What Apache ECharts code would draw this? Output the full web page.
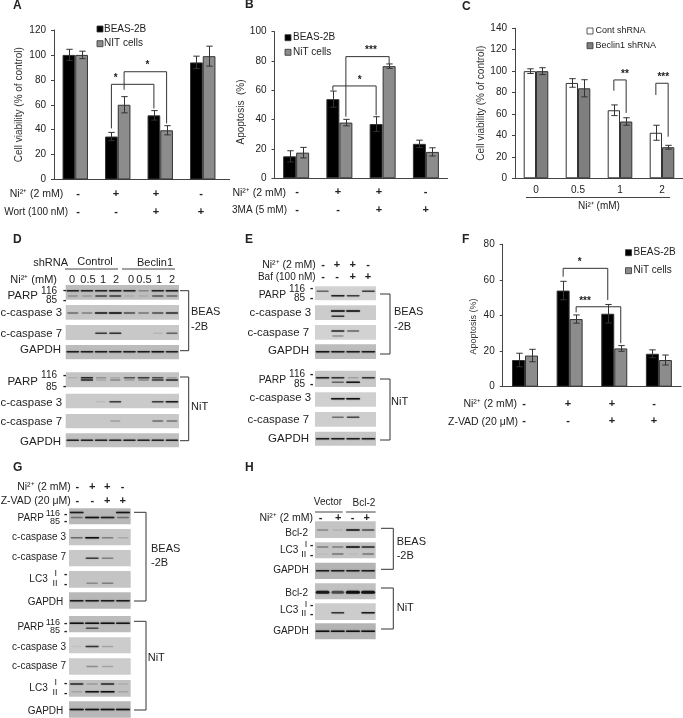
<!DOCTYPE html>
<html>
<head>
<meta charset="utf-8">
<title>Figure</title>
<style>
  html, body { margin: 0; padding: 0; background: #fff; }
  #main { width: 683px; height: 718px; }
</style>
<script src="https://cdn.jsdelivr.net/npm/echarts@6/dist/echarts.min.js"></script>
</head>
<body>
<div id="main"></div>
<script>
// bar chart values, [first series, second series] per group
const aBeas = [100, 34.5, 51.5, 94];
const aNit = [100, 60, 39.5, 99];
const aBeasErr = [4.5, 3.3, 3.8, 5];
const aNitErr = [3, 6.5, 3.7, 8];

const bBeas = [15, 54, 37, 23.5];
const bNit = [17.5, 38, 76.5, 18];
const bBeasErr = [3.8, 5.5, 5, 2.5];
const bNitErr = [3.6, 2.2, 1.5, 2.8];

const cCont = [100, 89, 63.5, 42.5];
const cBeclin = [100, 84, 53, 29];
const cContErr = [2.2, 4, 5, 7];
const cBeclinErr = [3.2, 8, 3.5, 1.8];
const cDoses = ['0', '0.5', '1', '2'];

const fBeas = [15, 54, 41, 18.5];
const fNit = [17.5, 38, 21.5, 15];
const fBeasErr = [3.8, 5.2, 5.2, 2.2];
const fNitErr = [3.5, 2.3, 1.6, 2.8];

// significance brackets: group, side, start value, group, side, end value, top value, label, label pos
const aBrackets = [
  [1, -1, 41, 2, -1, 57, 76.4, '*', 0.1],
  [1, 1, 72, 2, 1, 45, 86.5, '*', 0.55]
];
const bBrackets = [
  [1, -1, 60, 2, -1, 43, 63, '*', 0.62],
  [1, 1, 42, 2, 1, 78, 83, '***', 0.58]
];
const cBrackets = [
  [2, -1, 81.8, 2, 1, 61, 91.8, '**', 0.9],
  [3, -1, 77.8, 3, 1, 38.8, 88.7, '***', 0.6]
];
const fBrackets = [
  [1, -1, 61.8, 2, -1, 48.7, 66.5, '*', 0.37],
  [1, 1, 41.8, 2, 1, 24.4, 44.9, '***', 0.2]
];

// +/- rows under the charts and blots
const rowMinusPlusPlusMinus = ['-', '+', '+', '-'];
const rowMinusMinusPlusPlus = ['-', '-', '+', '+'];
const rowVector = ['-', '+', '-', '+'];
const dLanes = ['0', '0.5', '1', '2', '0', '0.5', '1', '2'];

// band intensity per lane, read by eye from the blots
const dParpB116 = [.85, .85, .85, .9, .85, .3, .85, .9];
const dParpB85 = [.25, .2, .65, .7, .1, .1, .55, .45];
const dCasp3B = [.45, .35, .9, 1, .6, .4, .6, .8];
const dCasp7B = [0, 0, .7, .75, 0, 0, .1, .5];
const dGapdhB = [.9, .9, .9, .9, .9, .9, .95, .85];
const dParpN116 = [.1, .8, .25, .15, .55, .7, .6, .2];
const dParpN85 = [0, .8, .15, .3, .2, .3, .7, .8];
const dCasp3N = [0, 0, .08, .7, 0, 0, .7, .9];
const dCasp7N = [0, 0, 0, .2, 0, 0, .45, .4];
const dGapdhN = [.85, .85, .85, .85, .85, .85, .85, .85];

const eParpB116 = [.5, 0, 0, .7];
const eParpB85 = [0, .85, .7, 0];
const eCasp3Ba = [0, 1, 1, 0];
const eCasp3Bb = [0, .75, 0, 0];
const eCasp7Ba = [0, .8, .5, 0];
const eCasp7Bb = [0, .3, 0, 0];
const eGapdhB = [.95, .9, .9, .9];
const eParpN116 = [.85, .75, .2, .75];
const eParpN85 = [0, .5, .95, 0];
const eCasp3N = [0, .95, 1, 0];
const eCasp7N = [0, .45, .65, 0];
const eGapdhN = [.9, .9, .9, .9];

const gParpB116 = [.9, 0, 0, .95];
const gParpB85 = [.4, 1, .9, .4];
const gCasp3B = [.45, 1, .35, .15];
const gCasp7B = [0, .7, .35, 0];
const gLc3B = [0, .3, .35, 0];
const gGapdhB = [.9, .9, .9, .9];
const gParpN116 = [1, 1, 1, .95];
const gParpN85 = [0, .6, 0, 0];
const gCasp3N = [.05, .75, .2, 0];
const gCasp7N = [0, .3, .2, 0];
const gLc3Na = [.8, .2, .8, .1];
const gLc3Nb = [.15, .95, 1, .15];
const gGapdhN = [1, 1, 1, 1];

const hBcl2B = [.3, .1, .95, .6];
const hLc3Ba = [.35, .35, 1, .8];
const hLc3Bb = [.05, .4, .05, .4];
const hGapdhB = [.9, .9, .9, .9];
const hBcl2N = [.9, .6, 1, .95];
const hLc3N = [0, .75, 0, .9];
const hGapdhN = [1, 1, 1, 1];

const FONT = '"Liberation Sans", Arial, sans-serif';
const AXIS_COLOR = '#444';

const grids = [];
const xAxes = [];
const yAxes = [];
const series = [];
const graphics = [];

function addBarChart(cfg) {
  const idx = grids.length;
  grids.push({ left: cfg.rect[0], top: cfg.rect[1], width: cfg.rect[2], height: cfg.rect[3] });
  xAxes.push({
    gridIndex: idx,
    type: 'category',
    data: cfg.labels || ['a', 'b', 'c', 'd'],
    axisTick: { show: false },
    axisLine: { lineStyle: { color: AXIS_COLOR, width: 1 } },
    axisLabel: { show: !!cfg.labels, margin: 7, color: '#222', fontSize: 10, fontFamily: FONT, interval: 0 }
  });
  yAxes.push({
    gridIndex: idx,
    type: 'value',
    min: 0,
    max: cfg.max,
    interval: 20,
    name: cfg.title,
    nameLocation: 'middle',
    nameGap: cfg.nameGap,
    nameRotate: 90,
    nameTextStyle: { color: '#333', fontSize: cfg.nameSize || 10, fontFamily: FONT, padding: cfg.namePadding || 0 },
    splitLine: { show: false },
    axisLine: { show: true, lineStyle: { color: AXIS_COLOR, width: 1 } },
    axisTick: { show: true, length: 3, lineStyle: { color: AXIS_COLOR } },
    axisLabel: { color: '#222', fontSize: 10, fontFamily: FONT, margin: 8 }
  });
  const bw = cfg.barWidth;
  cfg.bars.forEach(function (b) {
    series.push({
      type: 'bar',
      name: b.name,
      xAxisIndex: idx,
      yAxisIndex: idx,
      data: b.values,
      barWidth: bw,
      barGap: '0%',
      itemStyle: { color: b.color, borderColor: '#333', borderWidth: 1 }
    });
  });
  // error bars
  const errData = [];
  cfg.bars.forEach(function (b, s) {
    b.values.forEach(function (v, i) { errData.push([i, v, b.err[i], s]); });
  });
  series.push({
    type: 'custom',
    xAxisIndex: idx,
    yAxisIndex: idx,
    z: 5,
    silent: true,
    clip: false,
    data: errData,
    renderItem: function (params, api) {
      const s = api.value(3);
      const v = api.value(1);
      const e = api.value(2);
      const dir = s === 0 ? -1 : 1;
      const top = api.coord([api.value(0), v + e]);
      const bot = api.coord([api.value(0), v - e]);
      const x = Math.round(top[0] + dir * bw / 2) + 0.5;
      const cap = 3.2;
      const st = { stroke: '#333', lineWidth: 1, fill: null };
      return {
        type: 'group',
        children: [
          { type: 'line', shape: { x1: x, y1: top[1], x2: x, y2: bot[1] }, style: st },
          { type: 'line', shape: { x1: x - cap, y1: top[1], x2: x + cap, y2: top[1] }, style: st },
          { type: 'line', shape: { x1: x - cap, y1: bot[1], x2: x + cap, y2: bot[1] }, style: st }
        ]
      };
    }
  });
  // significance brackets
  series.push({
    type: 'custom',
    xAxisIndex: idx,
    yAxisIndex: idx,
    z: 6,
    silent: true,
    clip: false,
    data: cfg.brackets.map(function (b) { return [b[0], b[2]]; }),
    renderItem: function (params, api) {
      const b = cfg.brackets[params.dataIndex];
      const p1 = api.coord([b[0], b[2]]);
      const p2 = api.coord([b[3], b[5]]);
      const t = api.coord([b[0], b[6]]);
      const x1 = p1[0] + b[1] * bw / 2;
      const x2 = p2[0] + b[4] * bw / 2;
      return {
        type: 'group',
        children: [
          {
            type: 'polyline',
            shape: { points: [[x1, p1[1]], [x1, t[1]], [x2, t[1]], [x2, p2[1]]] },
            style: { stroke: '#333', lineWidth: 1, fill: null }
          },
          {
            type: 'text',
            style: {
              text: b[7],
              x: x1 + (x2 - x1) * b[8],
              y: t[1] - 6,
              align: 'center',
              verticalAlign: 'middle',
              fill: '#222',
              font: 'bold 10px ' + FONT
            }
          }
        ]
      };
    }
  });
  // legend keys sit closer to their text than the legend component allows
  cfg.bars.forEach(function (b, i) {
    const y = cfg.legend[1] + i * cfg.legend[2];
    graphics.push({
      type: 'rect', silent: true,
      shape: { x: cfg.legend[0], y: y - 3, width: 6, height: 6 },
      style: { fill: b.color, stroke: '#333', lineWidth: 0.8 }
    });
    txt(cfg.legend[3], y, b.name, cfg.legend[4], 'left');
  });
}

function addBlot(rect, bg, rows, bandH) {
  const idx = grids.length;
  const lanes = rows[0][1].length;
  grids.push({
    left: rect[0], top: rect[1], width: rect[2], height: rect[3],
    show: true, backgroundColor: bg, borderWidth: 0
  });
  xAxes.push({
    gridIndex: idx, type: 'category', show: false,
    data: rows[0][1].map(function (v, i) { return i; })
  });
  yAxes.push({ gridIndex: idx, type: 'value', show: false, inverse: true, min: 0, max: 1 });
  const data = [];
  rows.forEach(function (r) {
    r[1].forEach(function (v, i) {
      if (v > 0) data.push([i, r[0], v]);
    });
  });
  const laneW = rect[2] / lanes;
  series.push({
    type: 'custom',
    xAxisIndex: idx,
    yAxisIndex: idx,
    silent: true,
    data: data,
    renderItem: function (params, api) {
      const p = api.coord([api.value(0), api.value(1)]);
      const v = api.value(2);
      const w = laneW * (0.68 + 0.24 * v);
      const h = bandH || 1.5;
      return {
        type: 'rect',
        shape: { x: p[0] - w / 2, y: p[1] - h / 2, width: w, height: h, r: h / 2 },
        style: { fill: 'rgba(15,15,15,' + v + ')', shadowBlur: 1.5, shadowColor: 'rgba(30,30,30,' + v * 0.6 + ')' }
      };
    }
  });
}

function txt(x, y, text, size, align, extra) {
  graphics.push({
    type: 'text',
    silent: true,
    style: {
      x: x, y: y, text: text,
      font: (extra && extra.bold ? 'bold ' : '') + size + 'px ' + FONT,
      fill: '#222',
      align: align || 'left',
      verticalAlign: 'middle'
    }
  });
}

function hline(x1, x2, y, color) {
  graphics.push({
    type: 'line', silent: true,
    shape: { x1: x1, y1: y, x2: x2, y2: y },
    style: { stroke: color || AXIS_COLOR, lineWidth: 1 }
  });
}

function bracketSide(x0, x1, top, bot) {
  graphics.push({
    type: 'polyline', silent: true,
    shape: { points: [[x0, top], [x1, top], [x1, bot], [x0, bot]] },
    style: { stroke: '#333', lineWidth: 1, fill: null }
  });
}

function signRow(xs, y, signs) {
  signs.forEach(function (s, i) { txt(xs[i], y, s, 11, 'center', { bold: true }); });
}

// bar charts
addBarChart({
  rect: [54, 30, 170, 149.5], max: 120, title: 'Cell viability (% of control)', nameGap: 30,
  barWidth: 12.7, brackets: aBrackets, legend: [97, 29, 14.7, 104, 10],
  bars: [
    { name: 'BEAS-2B', values: aBeas, err: aBeasErr, color: '#000' },
    { name: 'NIT cells', values: aNit, err: aNitErr, color: '#8c8c8c' }
  ]
});
addBarChart({
  rect: [274.5, 31.7, 173, 146.6], max: 100, title: 'Apoptosis  (%)', nameGap: 22,
  barWidth: 13, brackets: bBrackets, legend: [285, 37.7, 14.6, 293, 10],
  namePadding: [0, 14, 0, 0],
  bars: [
    { name: 'BEAS-2B', values: bBeas, err: bBeasErr, color: '#000' },
    { name: 'NiT cells', values: bNit, err: bNitErr, color: '#8c8c8c' }
  ]
});
addBarChart({
  rect: [515, 28.3, 168, 150], max: 140, title: 'Cell viability (% of control)', nameGap: 28,
  barWidth: 12.3, brackets: cBrackets, legend: [587, 31, 14.7, 595.5, 9], labels: cDoses,
  bars: [
    { name: 'Cont shRNA', values: cCont, err: cContErr, color: '#fff' },
    { name: 'Beclin1 shRNA', values: cBeclin, err: cBeclinErr, color: '#7f7f7f' }
  ]
});
addBarChart({
  rect: [502.7, 244.3, 178.5, 142.4], max: 80, title: 'Apoptosis (%)', nameGap: 25, nameSize: 9,
  barWidth: 13, brackets: fBrackets, legend: [625.5, 252.7, 18, 633.5, 10],
  namePadding: [0, 22, 0, 0],
  bars: [
    { name: 'BEAS-2B', values: fBeas, err: fBeasErr, color: '#000' },
    { name: 'NiT cells', values: fNit, err: fNitErr, color: '#8c8c8c' }
  ]
});

// blots
const dX = [65.7, 113.3];
addBlot([dX[0], 285, dX[1], 14.7], '#bdbdbd', [[.39, dParpB116], [.75, dParpB85]]);
addBlot([dX[0], 305, dX[1], 14.7], '#c6c6c6', [[.55, dCasp3B]]);
addBlot([dX[0], 325, dX[1], 15], '#c8c8c8', [[.55, dCasp7B]]);
addBlot([dX[0], 345, dX[1], 14.3], '#bcbcbc', [[.47, dGapdhB]]);
addBlot([dX[0], 372.3, dX[1], 15], '#c4c4c4', [[.36, dParpN116], [.52, dParpN85]]);
addBlot([dX[0], 393.7, dX[1], 14.6], '#cacaca', [[.55, dCasp3N]]);
addBlot([dX[0], 414, dX[1], 14.3], '#c8c8c8', [[.49, dCasp7N]]);
addBlot([dX[0], 433.3, dX[1], 14], '#c0c0c0', [[.5, dGapdhN]]);

const eX = [315, 61];
addBlot([eX[0], 286.3, eX[1], 14], '#d2d2d2', [[.36, eParpB116], [.67, eParpB85]]);
addBlot([eX[0], 305.3, eX[1], 14.7], '#cccccc', [[.39, eCasp3Ba], [.75, eCasp3Bb]]);
addBlot([eX[0], 325, eX[1], 14.7], '#d2d2d2', [[.41, eCasp7Ba], [.75, eCasp7Bb]]);
addBlot([eX[0], 344.3, eX[1], 14.7], '#bdbdbd', [[.5, eGapdhB]]);
addBlot([eX[0], 370.7, eX[1], 16.3], '#c8c8c8', [[.43, eParpN116], [.71, eParpN85]]);
addBlot([eX[0], 392.3, eX[1], 14.4], '#d0d0d0', [[.44, eCasp3N]]);
addBlot([eX[0], 412, eX[1], 14.7], '#cecece', [[.36, eCasp7N]]);
addBlot([eX[0], 431.7, eX[1], 14], '#c6c6c6', [[.5, eGapdhN]]);

const gX = [69, 61.7];
addBlot([gX[0], 508.3, gX[1], 16], '#b8b8b8', [[.27, gParpB116], [.58, gParpB85]]);
addBlot([gX[0], 529, gX[1], 16.3], '#c6c6c6', [[.53, gCasp3B]]);
addBlot([gX[0], 550, gX[1], 16.3], '#c8c8c8', [[.51, gCasp7B]]);
addBlot([gX[0], 571, gX[1], 16.7], '#c4c4c4', [[.74, gLc3B]]);
addBlot([gX[0], 592.3, gX[1], 16.4], '#b8b8b8', [[.51, gGapdhB]]);
addBlot([gX[0], 616, gX[1], 16.3], '#bcbcbc', [[.45, gParpN116], [.75, gParpN85]]);
addBlot([gX[0], 637.3, gX[1], 16], '#cccccc', [[.58, gCasp3N]]);
addBlot([gX[0], 658.3, gX[1], 16.4], '#cccccc', [[.5, gCasp7N]]);
addBlot([gX[0], 680, gX[1], 16.7], '#c0c0c0', [[.24, gLc3Na], [.7, gLc3Nb]]);
addBlot([gX[0], 701.3, gX[1], 16.4], '#b8b8b8', [[.5, gGapdhN]]);

const hX = [315, 60.7];
addBlot([hX[0], 521.3, hX[1], 16.7], '#c4c4c4', [[.52, hBcl2B]]);
addBlot([hX[0], 542.3, hX[1], 16], '#c4c4c4', [[.29, hLc3Ba], [.73, hLc3Bb]]);
addBlot([hX[0], 562.7, hX[1], 16.3], '#b4b4b4', [[.5, hGapdhB]]);
addBlot([hX[0], 583.3, hX[1], 16], '#c0c0c0', [[.56, hBcl2N]], 3);
addBlot([hX[0], 603.3, hX[1], 16.7], '#cccccc', [[.56, hLc3N]]);
addBlot([hX[0], 623.3, hX[1], 16], '#b4b4b4', [[.5, hGapdhN]]);

// panel letters
[['A', 13, 6], ['B', 245, 5], ['C', 462, 7], ['D', 13, 240], ['E', 245, 240], ['F', 462, 240], ['G', 13, 468], ['H', 245, 468]]
  .forEach(function (p) { txt(p[1], p[2], p[0], 12, 'left', { bold: true }); });

// rows under panel A, B, F
hline(224, 230, 179.5);
txt(63.3, 194, 'Ni²⁺ (2 mM)', 10.5, 'right');
txt(68, 212, 'Wort (100 nM)', 10, 'right');
signRow([78, 116, 156, 201], 194, rowMinusPlusPlusMinus);
signRow([78, 116, 156, 201], 212, rowMinusMinusPlusPlus);

txt(286, 192.7, 'Ni²⁺ (2 mM)', 10.5, 'right');
txt(287, 210.7, '3MA (5 mM)', 10, 'right');
signRow([297, 338, 379, 425.7], 192, rowMinusPlusPlusMinus);
signRow([297, 338, 379, 425.7], 210, rowMinusMinusPlusPlus);

txt(517, 404, 'Ni²⁺ (2 mM)', 10.5, 'right');
txt(518, 422, 'Z-VAD (20 μM)', 10.5, 'right');
signRow([524, 568, 612, 654], 404, ['-', '+', '+', '-']);
signRow([524, 568, 612, 654], 421, rowMinusMinusPlusPlus);

// panel C x title
hline(526, 670, 197.5);
txt(599, 206, 'Ni²⁺ (mM)', 10, 'center');

// panel D labels
txt(68, 263, 'shRNA', 11, 'right');
txt(95, 262, 'Control', 11, 'center');
txt(155, 263, 'Beclin1', 11, 'center');
hline(65, 118, 269);
hline(122, 175, 269);
txt(57, 280, 'Ni²⁺ (mM)', 11, 'right');
[72, 88, 103, 116, 131, 144, 159, 172].forEach(function (x, i) { txt(x, 280, dLanes[i], 11, 'center'); });
txt(38, 296, 'PARP', 11.5, 'right');
txt(57, 291, '116', 10, 'right');
txt(57, 300, '85', 10, 'right');
txt(63, 290, '-', 10, 'left', { bold: true });
txt(63, 300, '-', 10, 'left', { bold: true });
txt(62, 312.7, 'c-caspase 3', 11.4, 'right');
txt(62, 333.7, 'c-caspase 7', 11.4, 'right');
txt(61, 350, 'GAPDH', 11.5, 'right');
txt(38, 382, 'PARP', 11.5, 'right');
txt(57, 375.7, '116', 10, 'right');
txt(57, 387, '85', 10, 'right');
txt(63, 375, '-', 10, 'left', { bold: true });
txt(63, 386, '-', 10, 'left', { bold: true });
txt(62, 402.7, 'c-caspase 3', 11.4, 'right');
txt(62, 421.7, 'c-caspase 7', 11.4, 'right');
txt(61, 441.7, 'GAPDH', 11.5, 'right');
bracketSide(180, 188.7, 290.7, 350.7);
bracketSide(180, 188.7, 377, 440.7);
txt(191, 312, 'BEAS', 11, 'left');
txt(191, 326.7, '-2B', 11, 'left');
txt(191, 406.7, 'NiT', 11, 'left');

// panel E labels
txt(315.7, 265, 'Ni²⁺ (2 mM)', 10.5, 'right');
txt(315.7, 277, 'Baf (100 nM)', 10, 'right');
signRow([323, 337, 352.7, 368], 265, rowMinusPlusPlusMinus);
signRow([323, 337, 352.7, 368], 277, rowMinusMinusPlusPlus);
txt(286, 295, 'PARP', 10.3, 'right');
txt(305, 289, '116', 10, 'right');
txt(305, 298, '85', 10, 'right');
txt(310, 288.5, '-', 10, 'left', { bold: true });
txt(310, 298, '-', 10, 'left', { bold: true });
txt(311, 312.7, 'c-caspase 3', 11.4, 'right');
txt(309, 332.7, 'c-caspase 7', 11.4, 'right');
txt(309, 351, 'GAPDH', 11.5, 'right');
txt(286, 380, 'PARP', 10.3, 'right');
txt(305, 374.7, '116', 10, 'right');
txt(305, 384, '85', 10, 'right');
txt(310, 374, '-', 10, 'left', { bold: true });
txt(310, 384, '-', 10, 'left', { bold: true });
txt(311, 398, 'c-caspase 3', 11.4, 'right');
txt(309, 420, 'c-caspase 7', 11.4, 'right');
txt(309, 439, 'GAPDH', 11.5, 'right');
bracketSide(380, 390, 294, 354);
bracketSide(380, 390, 379, 440);
txt(394, 312, 'BEAS', 11, 'left');
txt(394, 327, '-2B', 11, 'left');
txt(391, 402, 'NiT', 11, 'left');

// panel G labels
txt(70.7, 486.7, 'Ni²⁺ (2 mM)', 10.5, 'right');
txt(70.7, 501.3, 'Z-VAD (20 μM)', 10.5, 'right');
signRow([77.3, 92.3, 107.3, 122.7], 486.7, rowMinusPlusPlusMinus);
signRow([77.3, 92.3, 107.3, 122.7], 500.5, rowMinusMinusPlusPlus);
[[518, 514, 521.7, 537.7, 557.7, 579, 574, 584, 602.3],
 [627.7, 623, 631, 647, 666.7, 688, 683, 693, 711.7]].forEach(function (r) {
  txt(44, r[0], 'PARP', 10, 'right');
  txt(60, r[1], '116', 9, 'right');
  txt(60, r[2], '85', 9, 'right');
  txt(64, r[1], '-', 10, 'left', { bold: true });
  txt(64, r[2], '-', 10, 'left', { bold: true });
  txt(66, r[3], 'c-caspase 3', 10, 'right');
  txt(66, r[4], 'c-caspase 7', 10, 'right');
  txt(47.7, r[5], 'LC3', 10, 'right');
  txt(55.7, r[6], 'I', 9, 'center');
  txt(55, r[7], 'II', 9, 'center');
  txt(64, r[6], '-', 10, 'left', { bold: true });
  txt(64, r[7], '-', 10, 'left', { bold: true });
  txt(63.3, r[8], 'GAPDH', 10, 'right');
});
bracketSide(134, 146, 512.3, 601);
bracketSide(134, 146, 621.3, 710);
txt(151, 549, 'BEAS', 11, 'left');
txt(151, 563, '-2B', 11, 'left');
txt(147.7, 658, 'NiT', 11, 'left');

// panel H labels
txt(328, 502.7, 'Vector', 10, 'center');
txt(364, 503.3, 'Bcl-2', 10, 'center');
hline(315, 342.7, 512);
hline(346, 375.7, 512);
txt(313, 517.7, 'Ni²⁺ (2 mM)', 10.5, 'right');
signRow([320.7, 338.3, 352.7, 366.7], 517.7, rowVector);
[[533.7, 550, 545, 555, 570.7], [593.7, 610.3, 605, 614, 631.7]].forEach(function (r) {
  txt(308, r[0], 'Bcl-2', 10, 'right');
  txt(298.3, r[1], 'LC3', 10, 'right');
  txt(306, r[2], 'I', 9, 'center');
  txt(303.7, r[3], 'II', 9, 'center');
  txt(310, r[2], '-', 10, 'left', { bold: true });
  txt(310, r[3], '-', 10, 'left', { bold: true });
  txt(308.7, r[4], 'GAPDH', 10, 'right');
});
bracketSide(381, 393.3, 528.3, 569.3);
bracketSide(381, 393.3, 588, 629);
txt(396.7, 542, 'BEAS', 11, 'left');
txt(396.7, 556, '-2B', 11, 'left');
txt(396.7, 608.3, 'NiT', 11, 'left');

const chart = echarts.init(document.getElementById('main'));
chart.setOption({
  animation: false,
  backgroundColor: '#fff',
  grid: grids,
  xAxis: xAxes,
  yAxis: yAxes,
  series: series,
  graphic: graphics
});
</script>
</body>
</html>
